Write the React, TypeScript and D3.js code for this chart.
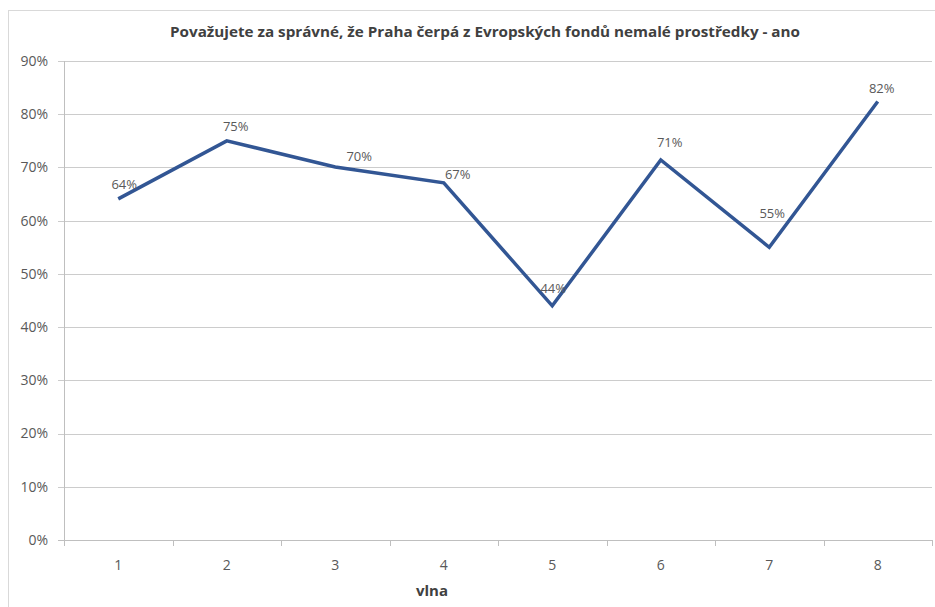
import React from "react";
import * as d3 from "d3";

// Survey waves and share of "ano" answers
const waves = ["1", "2", "3", "4", "5", "6", "7", "8"];
const shares = [0.641, 0.75, 0.701, 0.671, 0.44, 0.714, 0.55, 0.824];
const yTicks = [0, 0.1, 0.2, 0.3, 0.4, 0.5, 0.6, 0.7, 0.8, 0.9];

// Label nudges (px) relative to each point: [dx, dy]
const labelNudge: [number, number][] = [
  [6, -10], [9, -10], [24, -6], [14, -4], [1, -13], [9, -13], [3, -29], [4, -8],
];

const W = 935;
const H = 607;
const M = { left: 64, right: 932, top: 61, bottom: 540 };
const FONT = "'Open Sans', 'DejaVu Sans', sans-serif";
const TEXT = "#595959";

export default function App() {
  const x = d3.scaleBand<string>().domain(waves).range([M.left, M.right]);
  const y = d3.scaleLinear().domain([0, 0.9]).range([M.bottom, M.top]);
  const pct = d3.format(".0%");
  const cx = (w: string) => (x(w) ?? 0) + x.bandwidth() / 2;

  const line = d3
    .line<number>()
    .x((_, i) => cx(waves[i]))
    .y((d) => y(d));

  const boundaries = [...waves.map((w) => x(w) ?? 0), M.right];

  return (
    <svg
      width={W}
      height={H}
      style={{ position: "absolute", left: 0, top: 0, background: "#fff" }}
    >
      <rect x={8.5} y={10.5} width={940} height={620} fill="#fff" stroke="#d9d9d9" />

      <text
        x={485}
        y={37}
        textAnchor="middle"
        fontFamily={FONT}
        fontWeight="bold"
        fontSize={14}
        fill="#404040"
        textLength={630}
        lengthAdjust="spacingAndGlyphs"
      >
        Považujete za správné, že Praha čerpá z Evropských fondů nemalé prostředky - ano
      </text>

      {/* gridlines and y axis labels */}
      {yTicks.map((t) => (
        <g key={t}>
          <line
            x1={M.left - 6}
            x2={M.right}
            y1={Math.round(y(t)) + 0.5}
            y2={Math.round(y(t)) + 0.5}
            stroke={t === 0 ? "#bfbfbf" : "#cccccc"}
          />
          <text
            x={M.left - 16}
            y={y(t)}
            dy="0.35em"
            textAnchor="end"
            fontFamily={FONT}
            fontSize={14}
            fill={TEXT}
          >
            {pct(t)}
          </text>
        </g>
      ))}

      {/* y axis line */}
      <line x1={M.left + 0.5} x2={M.left + 0.5} y1={M.top} y2={M.bottom} stroke="#bfbfbf" />

      {/* x axis ticks and labels */}
      {boundaries.map((b, i) => (
        <line
          key={i}
          x1={Math.round(b) + 0.5}
          x2={Math.round(b) + 0.5}
          y1={M.bottom}
          y2={M.bottom + 6}
          stroke="#bfbfbf"
        />
      ))}
      {waves.map((w) => (
        <text
          key={w}
          x={cx(w)}
          y={570}
          textAnchor="middle"
          fontFamily={FONT}
          fontSize={14}
          fill={TEXT}
        >
          {w}
        </text>
      ))}
      <text
        x={432}
        y={596}
        textAnchor="middle"
        fontFamily={FONT}
        fontWeight="bold"
        fontSize={15}
        fill="#404040"
      >
        vlna
      </text>

      <path
        d={line(shares) ?? ""}
        fill="none"
        stroke="#325694"
        strokeWidth={3.5}
        strokeLinejoin="miter"
      />

      {shares.map((v, i) => (
        <text
          key={i}
          x={cx(waves[i]) + labelNudge[i][0]}
          y={y(v) + labelNudge[i][1]}
          textAnchor="middle"
          fontFamily={FONT}
          fontSize={13}
          fill={TEXT}
        >
          {pct(v)}
        </text>
      ))}
    </svg>
  );
}
